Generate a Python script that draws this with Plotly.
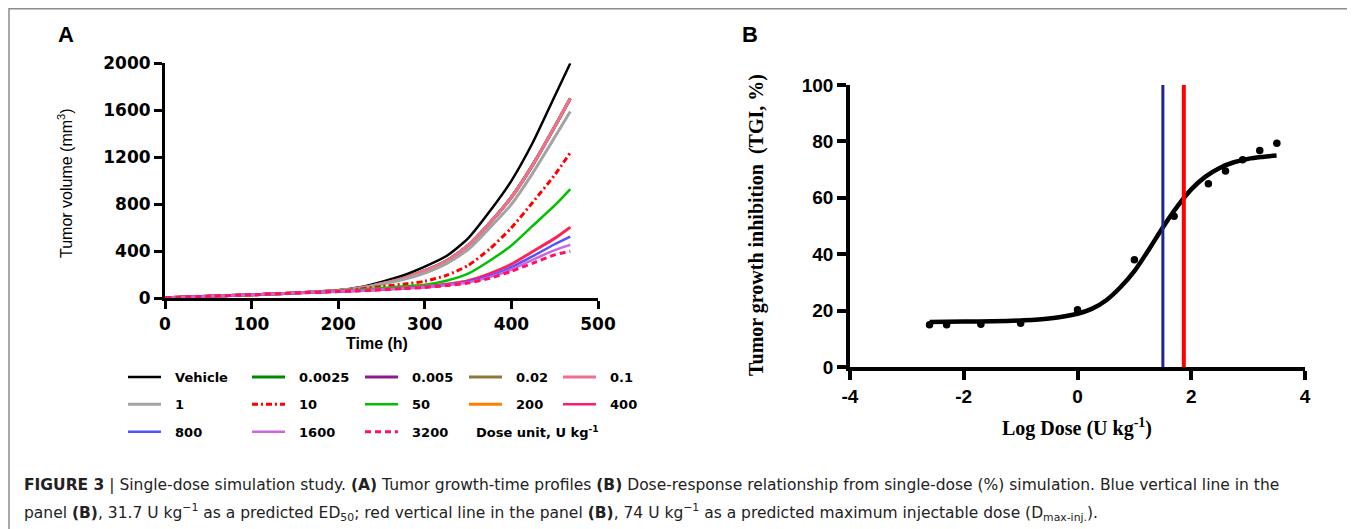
import numpy as np
import plotly.graph_objects as go

# page is shown with an 8px body margin, so the figure is drawn 8px smaller
# and every reference pixel position is shifted by that margin
PAGE_W, PAGE_H = 1355, 529
OFF = 8
W, H = PAGE_W - OFF, PAGE_H - OFF

# ---------------- Panel A data ----------------
time_h = [0, 50, 100, 150, 200, 225, 250, 275, 300, 325, 350, 375, 400, 425, 450, 468]
series_names = ["Vehicle", "0.0025", "0.005", "0.02", "0.1", "1", "10", "50",
                "200", "400", "800", "1600", "3200"]
vol_vehicle = [5, 17, 30, 45, 68, 95, 140, 195, 270, 360, 510, 740, 1000, 1330, 1720, 2000]
vol_0p0025 = [5, 17, 30, 45, 66, 88, 125, 170, 235, 320, 450, 640, 860, 1140, 1460, 1700]
vol_0p005 = [5, 17, 30, 45, 66, 88, 125, 170, 235, 320, 450, 640, 860, 1140, 1460, 1700]
vol_0p02 = [5, 17, 30, 45, 66, 88, 125, 170, 235, 320, 450, 640, 860, 1140, 1460, 1700]
vol_0p1 = [5, 17, 30, 45, 66, 88, 125, 170, 235, 320, 450, 640, 860, 1140, 1460, 1700]
vol_1 = [5, 17, 30, 45, 65, 85, 120, 160, 215, 295, 415, 600, 800, 1070, 1370, 1590]
vol_10 = [5, 17, 30, 45, 62, 78, 100, 120, 145, 195, 280, 420, 600, 820, 1050, 1240]
vol_50 = [5, 17, 30, 45, 60, 72, 88, 102, 115, 150, 210, 320, 450, 620, 790, 930]
vol_200 = [5, 17, 30, 45, 58, 65, 75, 87, 100, 120, 150, 210, 290, 400, 510, 605]
vol_400 = [5, 17, 30, 45, 58, 65, 75, 87, 100, 120, 150, 210, 290, 400, 510, 605]
vol_800 = [5, 17, 30, 45, 58, 65, 74, 85, 97, 115, 140, 190, 265, 360, 460, 525]
vol_1600 = [5, 17, 30, 45, 58, 65, 74, 84, 95, 112, 135, 180, 245, 330, 410, 455]
vol_3200 = [5, 17, 30, 45, 57, 64, 72, 82, 92, 108, 130, 170, 230, 300, 370, 400]

series_vols = [vol_vehicle, vol_0p0025, vol_0p005, vol_0p02, vol_0p1, vol_1, vol_10,
               vol_50, vol_200, vol_400, vol_800, vol_1600, vol_3200]

x_ticks_a = [0, 100, 200, 300, 400, 500]
y_ticks_a = [0, 400, 800, 1200, 1600, 2000]

# ---------------- Panel B data ----------------
doses = [0.0025, 0.005, 0.02, 0.1, 1, 10, 50, 200, 400, 800, 1600, 3200]
tgi_points = [15.0, 15.0, 15.2, 15.5, 20.3, 38.0, 53.5, 65.0, 69.5, 73.5, 76.8, 79.3]
fit_logdose = [-2.6, -2.0, -1.5, -1.0, -0.5, 0.0, 0.25, 0.5, 0.75, 1.0, 1.25, 1.5,
               1.75, 2.0, 2.25, 2.5, 2.75, 3.0, 3.25, 3.5]
fit_tgi = [16.0, 16.1, 16.2, 16.5, 17.2, 18.9, 20.6, 23.6, 28.2, 34.0, 41.5, 49.5,
           56.8, 63.0, 67.5, 70.6, 72.6, 73.8, 74.5, 75.0]
ed50_dose = 31.7
dmax_dose = 74
vline_tgi = [0, 100]
x_ticks_b = [-4, -2, 0, 2, 4]
x_ticktext_b = ["-4", "-2", "0", "2", "4"]
y_ticks_b = [0, 20, 40, 60, 80, 100]

# ---------------- styles ----------------
styles = {
    "Vehicle": dict(color="#000000", width=2.5, dash="solid"),
    "0.0025": dict(color="#008a00", width=3, dash="solid"),
    "0.005": dict(color="#8b1c8b", width=3, dash="solid"),
    "0.02": dict(color="#8b7b3b", width=3, dash="solid"),
    "0.1": dict(color="#f2708c", width=3, dash="solid"),
    "1": dict(color="#a3a3a3", width=3, dash="solid"),
    "10": dict(color="#ff0000", width=3, dash="6px,3px,2px,3px"),
    "50": dict(color="#00c000", width=2.5, dash="solid"),
    "200": dict(color="#ff8000", width=3, dash="solid"),
    "400": dict(color="#ff1a78", width=2.5, dash="solid"),
    "800": dict(color="#5252ff", width=2.5, dash="solid"),
    "1600": dict(color="#cc66e0", width=2.5, dash="solid"),
    "3200": dict(color="#ff1060", width=3, dash="6px,4px"),
}
legend_cols = [["Vehicle", "1", "800"], ["0.0025", "10", "1600"], ["0.005", "50", "3200"],
               ["0.02", "200"], ["0.1", "400"]]
legend_ids = ["legend", "legend2", "legend3", "legend4", "legend5"]
col_px = [131, 255, 368, 472, 566]

def px2x(px):
    return (px - OFF) / W

def py2y(py):
    return 1 - (py - OFF) / H

fig = go.Figure()

for name, vols in zip(series_names, series_vols):
    col = [i for i, c in enumerate(legend_cols) if name in c][0]
    st = styles[name]
    fig.add_trace(go.Scatter(
        x=time_h, y=vols, mode="lines", name="\u00a0\u00a0" + name,
        line=dict(color=st["color"], width=st["width"], dash=st["dash"], shape="spline", smoothing=0.6),
        legend=legend_ids[col], legendgroup=name, xaxis="x", yaxis="y",
        cliponaxis=False, hoverinfo="skip"))

log_doses = list(np.log10(doses))
fig.add_trace(go.Scatter(x=fit_logdose, y=fit_tgi, mode="lines",
                         line=dict(color="black", width=4.5, shape="spline"),
                         showlegend=False, xaxis="x2", yaxis="y2", hoverinfo="skip"))
fig.add_trace(go.Scatter(x=log_doses, y=tgi_points, mode="markers",
                         marker=dict(color="black", size=7.5),
                         showlegend=False, xaxis="x2", yaxis="y2", hoverinfo="skip"))
fig.add_trace(go.Scatter(x=[np.log10(ed50_dose)] * 2, y=vline_tgi, mode="lines",
                         line=dict(color="#23238f", width=3),
                         showlegend=False, xaxis="x2", yaxis="y2", hoverinfo="skip"))
fig.add_trace(go.Scatter(x=[np.log10(dmax_dose)] * 2, y=vline_tgi, mode="lines",
                         line=dict(color="#ff0000", width=4),
                         showlegend=False, xaxis="x2", yaxis="y2", hoverinfo="skip"))

axA = dict(showline=True, linecolor="black", linewidth=3, ticks="outside", ticklen=8,
           tickwidth=3, tickcolor="black", showgrid=False, zeroline=False, automargin=False,
           tickfont=dict(family="DejaVu Sans", size=17, color="black", weight="bold"))
axB = dict(showline=True, linecolor="black", linewidth=3.5, ticks="outside", ticklen=9,
           tickwidth=3.5, tickcolor="black", showgrid=False, zeroline=False, automargin=False,
           tickfont=dict(family="Liberation Sans", size=19, color="black", weight="bold"))

legend_common = dict(orientation="v", xanchor="left", yanchor="top", bgcolor="rgba(0,0,0,0)",
                     borderwidth=0, traceorder="grouped", tracegroupgap=7.5, itemwidth=33,
                     font=dict(family="DejaVu Sans", size=13, color="black", weight="bold"))
legends = {}
for lid, cx in zip(legend_ids, col_px):
    legends[lid] = dict(legend_common, x=px2x(cx - 8), y=py2y(362))

ann = []
def add_text(text, px, py, size, family="Liberation Sans", bold=False, angle=0,
             xanchor="center", color="black"):
    ann.append(dict(text=text, x=px2x(px), y=py2y(py), xref="paper", yref="paper",
                    showarrow=False, xanchor=xanchor, yanchor="middle", textangle=angle,
                    font=dict(family=family, size=size, color=color,
                              weight="bold" if bold else "normal")))

add_text("A", 66, 35, 22, bold=True)
add_text("B", 750, 35, 22, bold=True)
add_text("Tumor volume (mm<sup>3</sup>)", 65, 183, 16, angle=-90)
add_text("Time (h)", 377, 343, 16, bold=True)
add_text("Dose unit, U kg<sup>-1</sup>", 474, 432, 13, family="DejaVu Sans", bold=True, xanchor="left")
add_text("Tumor growth inhibition  (TGI, %)", 756, 225, 20, family="Liberation Serif", bold=True, angle=-90)
add_text("Log Dose (U kg<sup>-1</sup>)", 1077, 427, 20, family="Liberation Serif", bold=True)
add_text("<b>FIGURE 3</b> | Single-dose simulation study. <b>(A)</b> Tumor growth-time profiles <b>(B)</b> "
         "Dose-response relationship from single-dose (%) simulation. Blue vertical line in the",
         22, 485, 15.5, family="DejaVu Sans", xanchor="left", color="#222222")
add_text("panel <b>(B)</b>, 31.7 U kg<sup>\u22121</sup> as a predicted ED<sub>50</sub>; red vertical line in the panel "
         "<b>(B)</b>, 74 U kg<sup>\u22121</sup> as a predicted maximum injectable dose (D<sub>max-inj.</sub>).",
         22, 512, 15.5, family="DejaVu Sans", xanchor="left", color="#222222")

fig.update_layout(
    width=W, height=H, autosize=False,
    margin=dict(l=0, r=0, t=0, b=0, pad=0, autoexpand=False),
    paper_bgcolor="white", plot_bgcolor="white", showlegend=True,
    xaxis=dict(axA, domain=[px2x(165), px2x(598)], range=[0, 500], tickvals=x_ticks_a, anchor="y"),
    yaxis=dict(axA, domain=[py2y(298.3), py2y(63.3)], range=[0, 2000], tickvals=y_ticks_a, anchor="x"),
    xaxis2=dict(axB, domain=[px2x(850), px2x(1305)], range=[-4, 4], tickvals=x_ticks_b,
                ticktext=x_ticktext_b, anchor="y2"),
    yaxis2=dict(axB, domain=[py2y(367), py2y(85)], range=[0, 100], tickvals=y_ticks_b, anchor="x2"),
    annotations=ann,
    shapes=[dict(type="rect", xref="paper", yref="paper", x0=px2x(9), x1=px2x(1352),
                 y0=py2y(8.8), y1=py2y(560), line=dict(color="#8c8c8c", width=1.5))],
    **legends,
)

fig.write_html("out.html")
